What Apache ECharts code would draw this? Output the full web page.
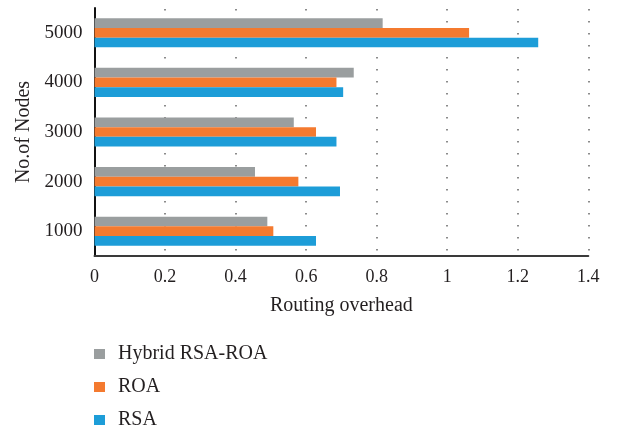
<!DOCTYPE html>
<html>
<head>
<meta charset="utf-8">
<script src="https://cdn.jsdelivr.net/npm/echarts@6/dist/echarts.min.js"></script>
<style>
  html, body { margin: 0; padding: 0; background: #fff; }
  #chart { width: 630px; height: 427px; }
</style>
</head>
<body>
<div id="chart"></div>
<script>
// Node counts on the category axis (bottom to top)
const nodeCounts = ['1000', '2000', '3000', '4000', '5000'];

// Routing overhead per protocol
const rsaValues    = [0.628, 0.696, 0.686, 0.705, 1.258];
const roaValues    = [0.507, 0.578, 0.628, 0.686, 1.062];
const hybridValues = [0.490, 0.455, 0.565, 0.735, 0.817];

const legendOrder = ['Hybrid RSA-ROA', 'ROA', 'RSA'];

const FONT = '"Liberation Serif", "DejaVu Serif", serif';
const TEXT = '#231f20';

const chart = echarts.init(document.getElementById('chart'), null, { renderer: 'canvas' });

function barSeries(name, data, color) {
  return {
    name: name,
    type: 'bar',
    data: data,
    barWidth: 9.7,
    barGap: '0%',
    itemStyle: { color: color },
    silent: true
  };
}

chart.setOption({
  animation: false,
  textStyle: { fontFamily: FONT, color: TEXT },
  grid: { left: 94.5, right: 41.7, top: 8, bottom: 171 },
  xAxis: {
    type: 'value',
    min: 0,
    max: 1.4,
    interval: 0.2,
    name: 'Routing overhead',
    nameLocation: 'middle',
    nameGap: 40,
    nameTextStyle: { fontFamily: FONT, fontSize: 20, color: TEXT },
    axisLine: { show: true, lineStyle: { color: '#3a3a3a', width: 2 } },
    axisTick: { show: false },
    axisLabel: {
      fontFamily: FONT, fontSize: 18, color: TEXT, margin: 12,
      formatter: v => String(Math.round(v * 10) / 10)
    },
    splitLine: {
      show: true,
      lineStyle: { color: '#666', width: 1.5, type: [1.5, 10.5], dashOffset: -1 }
    }
  },
  yAxis: {
    type: 'category',
    data: nodeCounts,
    name: 'No.of Nodes',
    nameLocation: 'middle',
    nameGap: 60,
    nameRotate: 90,
    nameTextStyle: { fontFamily: FONT, fontSize: 20, color: TEXT },
    axisLine: { show: true, lineStyle: { color: '#111', width: 2 } },
    axisTick: { show: false },
    axisLabel: { fontFamily: FONT, fontSize: 19, color: TEXT, margin: 12 },
    splitLine: { show: false }
  },
  legend: {
    orient: 'vertical',
    left: 94,
    top: 344,
    height: 100,
    padding: 0,
    data: legendOrder,
    itemWidth: 11,
    itemHeight: 10,
    itemGap: 13,
    icon: 'rect',
    selectedMode: false,
    textStyle: { fontFamily: FONT, fontSize: 20, lineHeight: 20, color: TEXT, padding: [0, 0, 0, 8] }
  },
  series: [
    barSeries('Hybrid RSA-ROA', hybridValues, '#9a9e9f'),
    barSeries('ROA', roaValues, '#f47a2f'),
    barSeries('RSA', rsaValues, '#1d9dd8')
  ]
});
</script>
</body>
</html>
